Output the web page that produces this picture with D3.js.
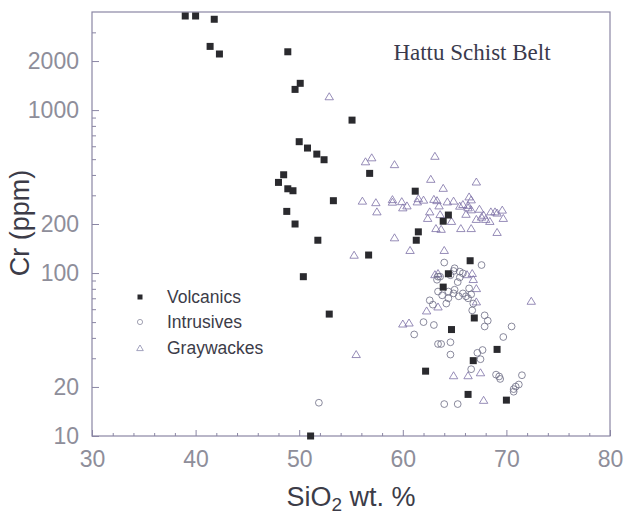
<!DOCTYPE html>
<html>
<head>
<meta charset="utf-8">
<title>Hattu Schist Belt - Cr vs SiO2</title>
<script src="https://cdn.jsdelivr.net/npm/d3@7"></script>
<style>
  body { margin: 0; background: #fff; }
  svg text { font-family: "Liberation Sans", Arial, Helvetica, sans-serif; }
</style>
</head>
<body>
<div id="chart"></div>
<script>
// [SiO2 wt.%, Cr ppm]
var volcanics = [
  [39.0,3780],[40.0,3780],[41.8,3610],[41.4,2460],[42.3,2210],[48.9,2280],
  [49.6,1340],[50.1,1460],[50.0,640],[50.8,585],[51.7,537],[52.4,496],
  [55.1,868],[56.8,409],[53.3,278],[48.0,360],[48.5,401],[48.9,329],
  [49.4,320],[48.8,239],[49.6,200],[51.8,159],[56.7,129],[50.4,95],
  [51.1,10],[52.9,56],[61.2,318],[64.4,227],[63.9,208],[61.5,179],
  [61.3,159],[66.5,119],[64.4,99],[63.9,82],[66.9,53],[64.7,45],
  [69.1,34],[66.8,29],[62.2,25],[66.3,18],[70.0,16.6]
];
var intrusives = [
  [51.9,16],[64.0,116],[67.6,112],[65.0,107],[65.5,102],[63.3,91],
  [65.3,88],[65.5,94],[64.6,97],[63.6,95],[63.4,77],[64.4,77],
  [65.0,79],[64.9,75],[65.8,75],[66.1,72],[66.3,70],[64.4,70],
  [63.8,73],[64.2,65],[66.8,65],[62.6,68],[62.9,64],[66.7,59],
  [67.9,55],[68.2,51],[67.9,47],[70.5,47],[62.0,50],[63.0,48],
  [61.1,42],[69.7,40.5],[63.4,36.7],[63.7,36.7],[64.6,37.6],[64.6,31.6],
  [67.2,32.4],[67.7,33.7],[67.5,29.6],[66.6,25.7],[69.0,23.8],[69.3,23.2],
  [69.4,22.4],[71.5,23.6],[71.2,20.7],[70.9,20.1],[70.7,19.4],[70.7,18.7],
  [64.0,15.7],[65.3,15.7],[63.4,95],[66.4,80.5],[64.9,103],[65.8,99.6],
  [65.4,72],[66.6,74]
];
var graywackes = [
  [52.9,1211],[56.4,483],[57.0,511],[56.1,277],[57.4,271],[57.5,238],
  [55.3,129],[55.5,31.7],[63.1,522],[59.2,464],[62.7,377],[63.9,332],
  [67.1,363],[59.0,283],[59.0,273],[59.9,275],[60.4,259],[60.0,252],
  [61.5,287],[61.4,274],[62.0,281],[63.0,284],[63.3,279],[63.5,259],
  [64.3,274],[64.9,277],[65.5,258],[65.8,264],[66.4,294],[66.6,282],
  [66.3,261],[66.3,252],[66.6,245],[66.1,230],[67.4,247],[67.1,214],
  [67.6,221],[67.8,227],[68.0,214],[68.4,208],[68.5,238],[68.9,238],
  [69.1,234],[69.6,244],[69.7,217],[69.1,178],[62.6,238],[62.4,217],
  [63.6,229],[64.7,208],[63.2,188],[63.7,186],[65.6,188],[66.6,188],
  [59.2,165],[60.7,138],[64.0,138],[63.1,98],[63.4,99.6],[66.2,98],
  [66.7,99.6],[66.8,91.5],[67.1,80.5],[67.1,66.7],[63.4,62.1],[62.3,58.7],
  [60.0,48.8],[60.6,49.5],[64.9,23.5],[66.3,23.5],[67.5,24.5],[67.8,16.6],
  [72.4,67.3]
];
var seriesNames = ["Volcanics", "Intrusives", "Graywackes"];
var xTicks = [30, 40, 50, 60, 70, 80];
var yTicks = [10, 20, 100, 200, 1000, 2000];
var yMinor = [30,40,50,60,70,80,90,300,400,500,600,700,800,900,3000];
var chartTitle = "Hattu Schist Belt";

var W = 624, H = 514;
var pL = 92, pR = 610, pT = 12, pB = 436;

var svg = d3.select("#chart").append("svg")
    .attr("width", W).attr("height", H);

var x = d3.scaleLinear().domain([30, 80]).range([pL, pR]);
var y = d3.scaleLog().domain([10, 4000]).range([pB, pT]);

var frameCol = "#8a86a4", labelCol = "#8e8e9a", textCol = "#3c3c48";

/* minor ticks first */
var xMinor = d3.range(32, 80, 2).filter(function(d) { return d % 10 != 0; });
svg.append("g").attr("transform", "translate(0," + pB + ")")
    .call(d3.axisBottom(x).tickValues(xMinor).tickSize(-3).tickFormat(""))
    .call(function(g) { g.select(".domain").remove(); })
    .selectAll("line").attr("stroke", frameCol);
svg.append("g").attr("transform", "translate(" + pL + ",0)")
    .call(d3.axisLeft(y).tickValues(yMinor).tickSize(-4).tickFormat(""))
    .call(function(g) { g.select(".domain").remove(); })
    .selectAll("line").attr("stroke", frameCol);

/* major ticks + labels */
var xa = svg.append("g").attr("transform", "translate(0," + pB + ")")
    .call(d3.axisBottom(x).tickValues(xTicks).tickSize(-6).tickPadding(14.5));
xa.select(".domain").remove();
xa.selectAll("line").attr("stroke", frameCol);
xa.selectAll("text").attr("font-size", 23).attr("fill", labelCol)
    .attr("font-family", "Liberation Sans, Arial, sans-serif");

var ya = svg.append("g").attr("transform", "translate(" + pL + ",0)")
    .call(d3.axisLeft(y).tickValues(yTicks).tickSize(-7).tickPadding(13)
          .tickFormat(d3.format("d")));
ya.select(".domain").remove();
ya.selectAll("line").attr("stroke", frameCol);
ya.selectAll("text").attr("font-size", 23).attr("fill", labelCol)
    .attr("font-family", "Liberation Sans, Arial, sans-serif");

// frame
svg.append("rect")
    .attr("x", pL).attr("y", pT)
    .attr("width", pR - pL).attr("height", pB - pT)
    .attr("fill", "none").attr("stroke", frameCol).attr("stroke-width", 1.2);

// title inside plot
svg.append("text")
    .attr("x", 472).attr("y", 60)
    .attr("text-anchor", "middle")
    .attr("font-size", 23)
    .style("font-family", "'Liberation Serif', 'Times New Roman', serif")
    .attr("fill", "#3a3a4c")
    .text(chartTitle);

// axis titles
var xt = svg.append("text")
    .attr("x", (pL + pR) / 2).attr("y", 506)
    .attr("text-anchor", "middle")
    .attr("font-size", 27).attr("fill", textCol);
xt.append("tspan").text("SiO");
xt.append("tspan").attr("font-size", 19).attr("dy", 5).text("2");
xt.append("tspan").attr("dy", -5).text(" wt. %");

svg.append("text")
    .attr("transform", "translate(29," + 223 + ") rotate(-90)")
    .attr("text-anchor", "middle")
    .attr("font-size", 27).attr("fill", textCol)
    .text("Cr (ppm)");

var tri = "M0,-3.8L4.2,3.2L-4.2,3.2Z";
var triSmall = "M0,-3L3.3,2.6L-3.3,2.6Z";

var plot = svg.append("g");

plot.selectAll(".gw").data(graywackes).enter().append("path")
    .attr("class", "gw")
    .attr("d", tri)
    .attr("transform", function(d) { return "translate(" + x(d[0]) + "," + y(d[1]) + ")"; })
    .attr("fill", "none").attr("stroke", "#7c70a6").attr("stroke-width", 0.8);

plot.selectAll(".int").data(intrusives).enter().append("circle")
    .attr("class", "int")
    .attr("cx", function(d) { return x(d[0]); })
    .attr("cy", function(d) { return y(d[1]); })
    .attr("r", 3.4)
    .attr("fill", "none").attr("stroke", "#6c6c84").attr("stroke-width", 0.8);

plot.selectAll(".vol").data(volcanics).enter().append("rect")
    .attr("class", "vol")
    .attr("x", function(d) { return x(d[0]) - 3.5; })
    .attr("y", function(d) { return y(d[1]) - 3.5; })
    .attr("width", 7).attr("height", 7)
    .attr("fill", "#2a2a2e");

// legend
var leg = svg.append("g");
var legY = [297, 322, 348];
leg.append("rect").attr("x", 137.5).attr("y", legY[0] - 2.5)
    .attr("width", 5).attr("height", 5).attr("fill", "#2a2a2e");
leg.append("circle").attr("cx", 140).attr("cy", legY[1]).attr("r", 2.6)
    .attr("fill", "none").attr("stroke", "#7c7c94").attr("stroke-width", 0.7);
leg.append("path").attr("d", triSmall)
    .attr("transform", "translate(140," + legY[2] + ")")
    .attr("fill", "none").attr("stroke", "#7c7ca4").attr("stroke-width", 0.7);
leg.selectAll("text").data(seriesNames).enter().append("text")
    .attr("x", 167)
    .attr("y", function(d, i) { return legY[i] + 6; })
    .attr("font-size", 17.5).attr("fill", textCol)
    .text(function(d) { return d; });
</script>
</body>
</html>
